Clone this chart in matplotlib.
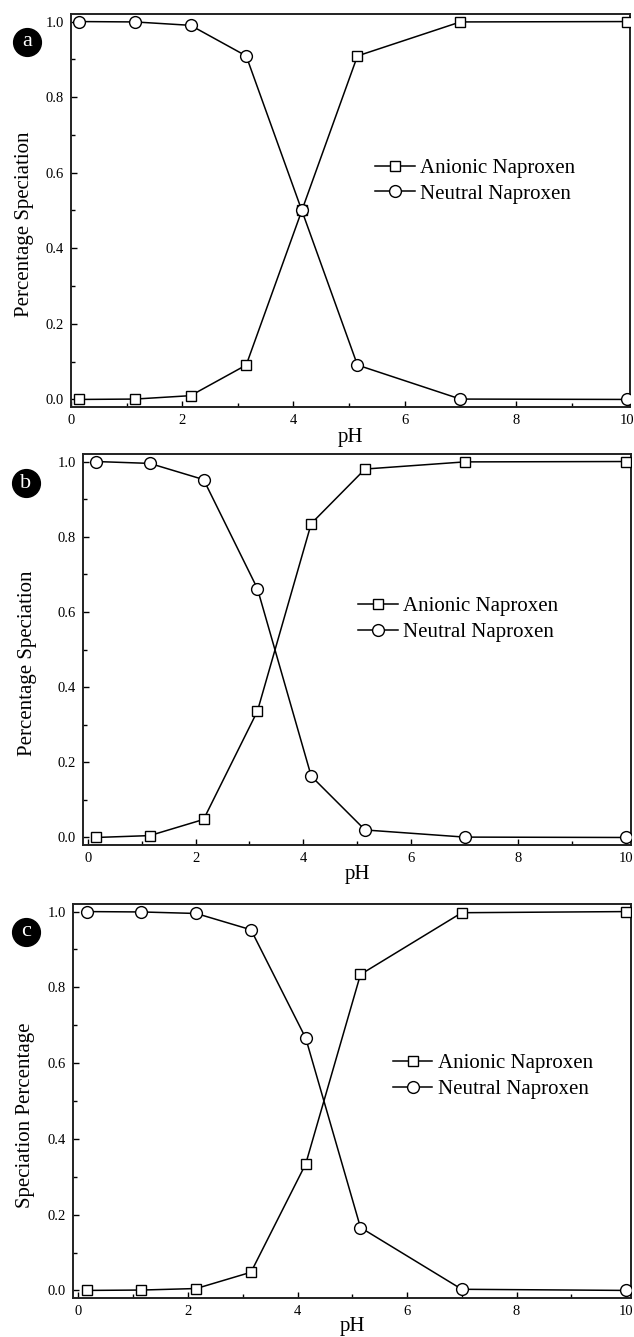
import numpy as np
import matplotlib.pyplot as plt
from matplotlib.lines import Line2D
from matplotlib.ticker import MultipleLocator

plt.rcParams['font.family'] = ['Liberation Serif', 'DejaVu Serif']

# pH values (same for all three panels)
ph = [0.15, 1.15, 2.15, 3.15, 4.15, 5.15, 7.0, 10.0]

# panel a
a_anionic = [0.0, 0.001, 0.01, 0.091, 0.5, 0.909, 0.999, 1.0]
a_neutral = [1.0, 0.999, 0.99, 0.909, 0.5, 0.091, 0.001, 0.0]
# panel b
b_anionic = [0.0, 0.005, 0.048, 0.336, 0.835, 0.98, 0.999, 1.0]
b_neutral = [1.0, 0.995, 0.952, 0.662, 0.163, 0.02, 0.001, 0.0]
# panel c
c_anionic = [0.0, 0.001, 0.005, 0.048, 0.334, 0.834, 0.997, 1.0]
c_neutral = [1.0, 0.999, 0.995, 0.952, 0.666, 0.166, 0.003, 0.0]

labels = ['Anionic Naproxen', 'Neutral Naproxen']
ylabels = ['Percentage Speciation', 'Percentage Speciation', 'Speciation Percentage']
tags = ['a', 'b', 'c']

W, H = 634, 1337
fig = plt.figure(figsize=(W / 100, H / 100), dpi=100)

# axes boxes in pixels: left, top, right, bottom
boxes = [(71, 14, 630, 407), (83, 454, 631, 845), (73, 904, 631, 1298)]
xlims = [(0, 10.05), (-0.09, 10.09), (-0.1, 10.09)]
legend_pos = [(0.544, 0.575), (0.502, 0.577), (0.573, 0.563)]
ylabel_x = [25, 28, 26]
tag_pos = [(27, 42), (26, 483), (26, 932)]
pH_y = [438, 875, 1327]

series = [(a_anionic, a_neutral), (b_anionic, b_neutral), (c_anionic, c_neutral)]

for i in range(3):
    l, t, r, b = boxes[i]
    ax = fig.add_axes([l / W, (H - b) / H, (r - l) / W, (b - t) / H])
    an, ne = series[i]
    ax.plot(ph, an, color='black', lw=1.1, marker='s', ms=7.5,
            mfc='white', mec='black', mew=1.0, label=labels[0], zorder=3)
    ax.plot(ph, ne, color='black', lw=1.1, marker='o', ms=8.5,
            mfc='white', mec='black', mew=1.0, label=labels[1], zorder=3)
    ax.set_xlim(*xlims[i])
    ax.set_ylim(-0.02, 1.02)
    ax.xaxis.set_major_locator(MultipleLocator(2))
    ax.xaxis.set_minor_locator(MultipleLocator(1))
    ax.yaxis.set_minor_locator(MultipleLocator(0.1))
    ax.set_yticks(np.arange(0, 1.01, 0.2))
    ax.set_yticklabels(['%.1f' % v for v in np.arange(0, 1.01, 0.2)])
    ax.tick_params(which='both', direction='in', top=False, right=False,
                   labelsize=10.5, pad=5)
    ax.tick_params(which='major', length=4, width=1)
    ax.tick_params(which='minor', length=3, width=1)
    for s in ax.spines.values():
        s.set_linewidth(1.4)
        s.set_color('#222222')

    # y label sits a bit below the axes centre in the original
    ax.set_ylabel(ylabels[i], fontsize=15, va='center')
    ax.yaxis.set_label_coords((ylabel_x[i] - l) / (r - l), 0.5 - 14 / (b - t))
    fig.text((l + r) / 2 / W, 1 - pH_y[i] / H, 'pH', fontsize=15,
             ha='center', va='center')

    ax.legend(loc='center left', bbox_to_anchor=legend_pos[i], frameon=False,
              fontsize=15, handlelength=1.9, handletextpad=0.25,
              labelspacing=0.3, borderpad=0, borderaxespad=0)

    # black circle panel tag
    tx, ty = tag_pos[i]
    fig.add_artist(Line2D([tx / W], [1 - ty / H], marker='o', ms=20,
                          color='black', transform=fig.transFigure))
    fig.text(tx / W, 1 - ty / H, tags[i], color='white', fontsize=16,
             ha='center', va='center')

fig.savefig('out.png', dpi=100)
